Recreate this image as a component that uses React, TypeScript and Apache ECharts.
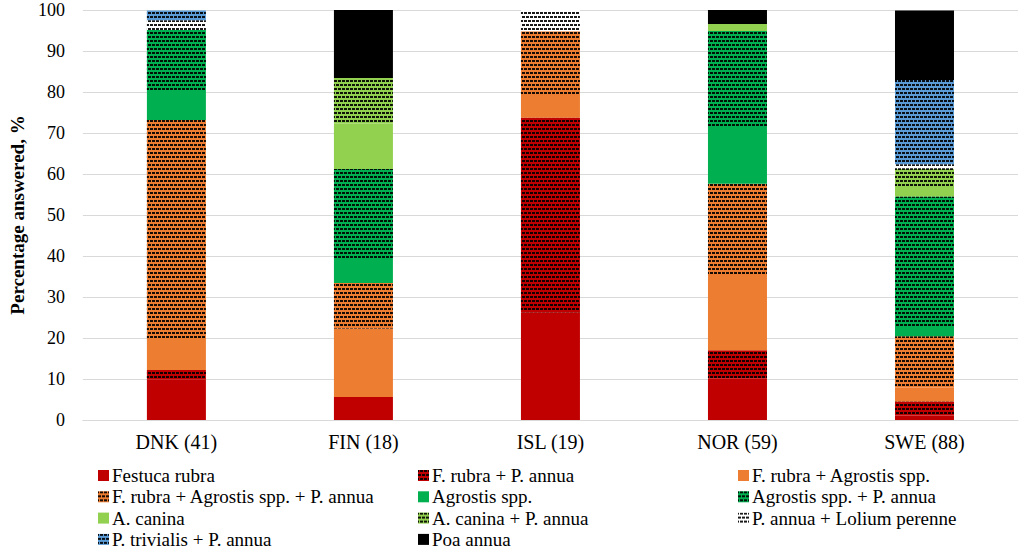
import React, { useEffect, useRef } from "react";
import * as echarts from "echarts";

const categories = ["DNK (41)", "FIN (18)", "ISL (19)", "NOR (59)", "SWE (88)"];
const yTicks = [0, 10, 20, 30, 40, 50, 60, 70, 80, 90, 100];

const seriesNames = [
  "Festuca rubra",
  "F. rubra + P. annua",
  "F. rubra + Agrostis spp.",
  "F. rubra + Agrostis spp. + P. annua",
  "Agrostis spp.",
  "Agrostis spp. + P. annua",
  "A. canina",
  "A. canina + P. annua",
  "P. annua + Lolium perenne",
  "P. trivialis + P. annua",
  "Poa annua",
];

const festucaRubra = [9.8, 5.6, 26.3, 10.2, 1.1];
const fRubraPAnnua = [2.4, 0, 47.4, 6.8, 3.4];
const fRubraAgrostis = [7.3, 16.7, 5.3, 18.6, 3.4];
const fRubraAgrostisPAnnua = [53.7, 11.1, 15.8, 22.0, 12.5];
const agrostis = [7.3, 5.6, 0, 13.6, 2.3];
const agrostisPAnnua = [14.6, 22.2, 0, 23.7, 31.8];
const aCanina = [0, 11.1, 0, 1.7, 2.3];
const aCaninaPAnnua = [0, 11.1, 0, 0, 4.5];
const pAnnuaLolium = [2.4, 0, 5.3, 0, 1.1];
const pTrivialisPAnnua = [2.4, 0, 0, 0, 20.5];
const poaAnnua = [0, 16.7, 0, 3.4, 17.0];

const seriesValues = [
  festucaRubra,
  fRubraPAnnua,
  fRubraAgrostis,
  fRubraAgrostisPAnnua,
  agrostis,
  agrostisPAnnua,
  aCanina,
  aCaninaPAnnua,
  pAnnuaLolium,
  pTrivialisPAnnua,
  poaAnnua,
];

const colors = [
  "#C00000",
  "#C00000",
  "#ED7D31",
  "#ED7D31",
  "#00B050",
  "#00B050",
  "#92D050",
  "#92D050",
  "#FFFFFF",
  "#5B9BD5",
  "#000000",
];
const patterned = [false, true, false, true, false, true, false, true, true, true, false];

const legendColumns = [
  [0, 3, 6, 9],
  [1, 4, 7, 10],
  [2, 5, 8],
];

export default function App() {
  const ref = useRef<HTMLDivElement>(null);
  useEffect(() => {
    document.body.style.margin = "0";
    if (!ref.current) return;
    const chart = echarts.init(ref.current, undefined, { renderer: "svg" });
    const font = "Liberation Serif";
    const decal = {
      symbol: "rect",
      symbolSize: 1,
      color: "rgba(0,0,0,0.9)",
      backgroundColor: null,
      dashArrayX: [
        [3, 1],
        [1, 1, 2, 0],
      ],
      dashArrayY: [1.6, 1.6],
      rotation: 0,
    };
    const series = seriesNames.map((name, i) => ({
      name,
      type: "bar",
      stack: "total",
      barWidth: 59,
      data: seriesValues[i],
      itemStyle: {
        color: colors[i],
        decal: patterned[i] ? decal : undefined,
      },
    }));
    chart.setOption({
      animation: false,
      textStyle: { fontFamily: font },
      grid: { left: 80, right: 5, top: 10, bottom: 134, containLabel: false },
      xAxis: {
        type: "category",
        data: categories,
        axisTick: { show: false },
        axisLine: { lineStyle: { color: "#D9D9D9", width: 1 } },
        axisLabel: { color: "#000", fontSize: 20, fontFamily: font, margin: 12 },
      },
      yAxis: {
        type: "value",
        min: yTicks[0],
        max: yTicks[yTicks.length - 1],
        interval: 10,
        name: "Percentage answered, %",
        nameLocation: "middle",
        nameGap: 55,
        nameTextStyle: { color: "#000", fontSize: 19, fontWeight: "bold", fontFamily: font },
        axisLabel: { color: "#000", fontSize: 18, fontFamily: font, margin: 18 },
        splitLine: { lineStyle: { color: "#D9D9D9", width: 1 } },
        axisLine: { show: false },
        axisTick: { show: false },
      },
      legend: legendColumns.map((col, c) => ({
        orient: "vertical",
        left: 98 + c * 320,
        top: 466,
        height: 100,
        padding: 0,
        itemWidth: 11,
        itemHeight: 11,
        itemGap: 2.3,
        icon: "rect",
        textStyle: { color: "#000", fontSize: 19, fontFamily: font, padding: [0, 0, 0, -2] },
        data: col.map((i) => seriesNames[i]),
        selectedMode: false,
      })),
      series,
    });
    return () => chart.dispose();
  }, []);
  return <div ref={ref} style={{ width: 1023, height: 554 }} />;
}
